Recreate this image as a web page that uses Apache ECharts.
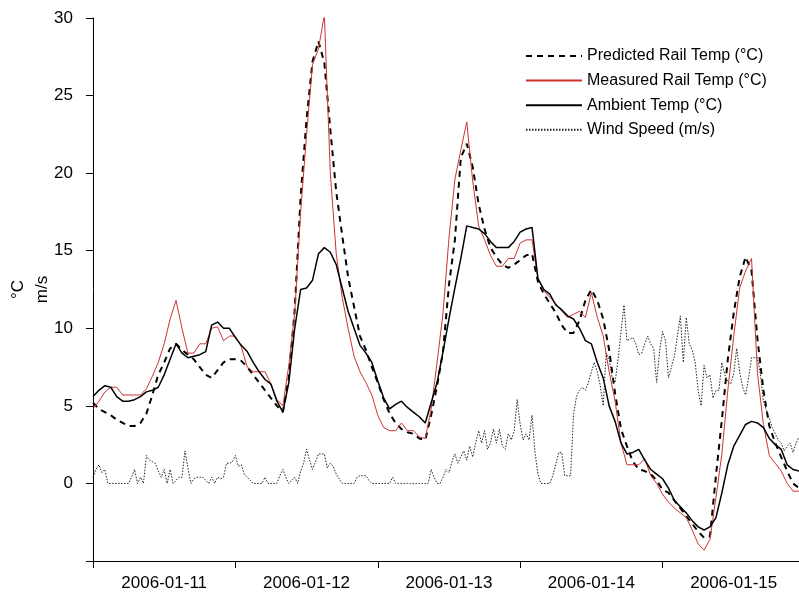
<!DOCTYPE html>
<html>
<head>
<meta charset="utf-8">
<script src="https://cdn.jsdelivr.net/npm/echarts@6/dist/echarts.min.js"></script>
<style>
  html, body { margin: 0; padding: 0; background: #fff; }
  #chart { width: 799px; height: 596px; }
</style>
</head>
<body>
<div id="chart"></div>
<script>
// Hourly readings starting 2006-01-11 00:00 (hour 0)
const dayLabels = ['2006-01-11', '2006-01-12', '2006-01-13', '2006-01-14', '2006-01-15'];

const predictedRail = [
  5.2, 4.8, 4.6, 4.4, 4.1, 3.9, 3.7, 3.7, 3.9, 4.5, 5.7, 7.0, 7.8, 8.7, 9.0, 8.6, 8.3, 8.0, 7.5, 7.0, 6.8, 7.3, 7.8, 8.0,
  8.0, 7.9, 7.5, 7.0, 6.5, 6.0, 5.5, 5.0, 4.6, 6.8, 11.2, 18.5, 23.5, 27.2, 28.5, 27.1, 22.8, 18.8, 16.0, 13.3, 11.4, 9.5, 8.6, 7.5,
  6.5, 5.4, 4.5, 3.9, 3.5, 3.3, 3.2, 2.9, 2.8, 4.4, 6.3, 8.5, 12.8, 15.7, 21.0, 21.9, 20.4, 18.0, 16.4, 15.2, 14.6, 14.1, 13.9, 14.1,
  14.4, 14.7, 14.8, 13.0, 12.2, 11.6, 11.0, 10.2, 9.7, 9.7, 10.5, 11.8, 12.5, 11.8, 10.6, 8.6, 5.8, 3.5, 2.4, 1.4, 0.9, 0.8, 0.6, 0.2,
  -0.4, -0.6, -1.1, -1.6, -2.1, -2.6, -3.1, -3.5, -3.4, 0.5, 4.1, 8.0, 11.0, 13.3, 14.6, 13.7, 9.3, 6.0, 3.7, 2.6, 1.7, 0.8, 0.0, -0.3
];

const measuredRail = [
  4.8, 5.3, 5.9, 6.2, 6.2, 5.7, 5.7, 5.7, 5.7, 6.1, 6.9, 7.8, 9.0, 10.6, 11.8, 10.0, 8.4, 8.4, 9.0, 9.0, 10.0, 10.1, 9.2, 9.5,
  9.5, 8.8, 7.5, 7.2, 7.2, 7.2, 6.4, 5.4, 5.0, 7.6, 11.0, 17.5, 22.5, 27.0, 28.0, 30.2, 20.0, 14.8, 12.0, 10.0, 8.2, 7.2, 6.5, 5.7,
  4.4, 3.6, 3.4, 3.4, 3.9, 3.4, 3.4, 3.0, 2.9, 4.8, 7.8, 11.0, 15.8, 19.6, 21.5, 23.3, 19.5, 16.6, 15.7, 14.7, 14.0, 14.0, 14.5, 14.5,
  15.5, 15.7, 15.7, 13.2, 12.4, 12.0, 11.6, 11.1, 10.7, 10.9, 11.1, 10.7, 12.3, 10.7, 9.5, 7.2, 5.3, 2.6, 1.2, 1.2, 1.2, 1.6, 0.5, 0.0,
  -0.7, -1.2, -1.6, -1.9, -2.2, -3.0, -3.9, -4.3, -3.6, -0.9, 1.9, 6.0, 9.5, 12.6, 13.7, 14.5, 7.1, 3.8, 1.8, 1.3, 0.8, 0.0, -0.5, -0.5
];

const ambientTemp = [
  5.6, 6.0, 6.3, 6.2, 5.6, 5.3, 5.3, 5.4, 5.6, 5.9, 6.0, 6.2, 7.0, 8.0, 9.0, 8.4, 8.1, 8.2, 8.3, 8.5, 10.2, 10.4, 10.0, 10.0,
  9.4, 8.9, 8.5, 7.8, 7.2, 6.7, 6.4, 5.3, 4.6, 6.5, 10.0, 12.5, 12.6, 13.1, 14.8, 15.2, 14.9, 14.1, 12.6, 11.1, 10.0, 8.9, 8.4, 7.8,
  6.6, 5.5, 4.8, 5.1, 5.3, 4.9, 4.6, 4.3, 3.9, 5.2, 6.5, 8.5, 10.6, 12.6, 14.5, 16.6, 16.5, 16.4, 16.1, 15.6, 15.2, 15.2, 15.2, 15.6,
  16.2, 16.4, 16.5, 13.2, 12.5, 12.2, 11.5, 11.2, 10.8, 10.6, 10.0, 9.2, 9.0, 7.8, 6.8, 5.0, 4.0, 2.6, 1.9, 2.0, 2.2, 1.5, 0.9, 0.6,
  0.3, -0.3, -1.1, -1.5, -1.9, -2.4, -2.8, -3.0, -2.8, -2.2, -0.6, 1.2, 2.4, 3.1, 3.8, 4.0, 3.9, 3.6, 2.9, 2.5, 2.2, 1.2, 0.9, 0.8
];

// Wind speed is logged every half hour
const windSpeed = [
  0.4, 0.9, 1.2, 0.7, 0.9, 0.0, 0.0, 0.0, 0.0, 0.0, 0.0, 0.0, 0.0, 0.4, 0.9, 0.0, 0.4, 0.0, 1.8, 1.5,
  1.4, 1.3, 0.8, 0.4, 0.9, 0.0, 0.9, 0.0, 0.2, 0.4, 0.4, 2.1, 1.0, 0.0, 0.3, 0.4, 0.4, 0.4, 0.2, 0.0,
  0.4, 0.0, 0.4, 0.3, 0.4, 1.3, 1.3, 1.4, 1.8, 1.1, 1.2, 0.6, 0.4, 0.2, 0.0, 0.0, 0.0, 0.0, 0.4, 0.0,
  0.0, 0.0, 0.0, 0.5, 0.9, 0.4, 0.0, 0.2, 0.4, 0.0, 0.8, 1.3, 2.2, 1.5, 0.9, 1.4, 1.9, 1.9, 1.9, 1.0,
  1.3, 1.1, 0.6, 0.3, 0.0, 0.0, 0.0, 0.0, 0.0, 0.4, 0.5, 0.5, 0.5, 0.2, 0.0, 0.0, 0.0, 0.0, 0.0, 0.0,
  0.0, 0.4, 0.0, 0.0, 0.0, 0.0, 0.0, 0.0, 0.0, 0.0, 0.0, 0.0, 0.0, 0.0, 0.9, 0.4, 0.0, 0.0, 0.4, 0.9,
  0.7, 1.4, 1.9, 1.3, 1.7, 2.1, 1.5, 2.4, 1.7, 2.6, 3.4, 2.6, 3.4, 2.2, 2.6, 3.5, 2.6, 3.5, 2.4, 2.2,
  3.2, 2.8, 3.4, 5.4, 3.8, 2.8, 3.2, 2.8, 4.4, 2.0, 0.6, 0.0, 0.0, 0.0, 0.0, 0.5, 1.2, 2.0, 2.0, 0.5,
  0.5, 0.5, 4.5, 5.6, 6.0, 6.2, 6.0, 6.5, 7.2, 7.8, 7.2, 6.3, 5.0, 8.4, 8.0, 6.8, 6.5, 8.0, 9.8, 11.5,
  9.2, 9.3, 9.4, 9.0, 8.3, 8.4, 9.0, 9.5, 9.0, 8.7, 6.5, 8.5, 9.8, 9.2, 6.8, 7.5, 8.2, 9.5, 10.8, 7.8,
  10.7, 9.0, 8.6, 7.8, 6.0, 5.0, 7.6, 6.8, 7.0, 5.5, 6.0, 6.0, 7.8, 7.0, 6.6, 6.4, 7.1, 8.7, 7.2, 6.2,
  5.7, 6.8, 8.1, 8.1, 8.1, 7.0, 5.3, 4.7, 4.2, 3.6, 3.2, 2.8, 2.6, 2.1, 2.4, 2.6, 2.0, 2.6, 3.0
];

const seriesNames = ['Predicted Rail Temp (°C)', 'Measured Rail Temp (°C)', 'Ambient Temp (°C)', 'Wind Speed (m/s)'];

const hourly = arr => arr.map((v, i) => [i, v]);
const halfHourly = arr => arr.map((v, i) => [i * 0.5, v]);

const FONT = 'Arial, "Liberation Sans", Helvetica, sans-serif';

const chart = echarts.init(document.getElementById('chart'), null, { renderer: 'canvas' });

chart.setOption({
  animation: false,
  backgroundColor: '#ffffff',
  grid: { left: 93, right: 0, top: 18, bottom: 35, containLabel: false, outerBoundsMode: 'none' },
  legend: {
    orient: 'vertical',
    left: 520,
    top: 43,
    itemWidth: 56,
    itemHeight: 14,
    itemGap: 8.6,
    itemStyle: { opacity: 0 },
    textStyle: { fontFamily: FONT, fontSize: 16, color: '#000' },
    data: seriesNames
  },
  xAxis: {
    type: 'value',
    min: 0,
    max: 119,
    axisLine: { onZero: false, lineStyle: { color: '#000', width: 1 } },
    axisTick: { show: true, length: 7, lineStyle: { color: '#000' }, customValues: [0, 24, 48, 72, 96] },
    axisLabel: {
      customValues: [12, 36, 60, 84, 108],
      formatter: v => dayLabels[Math.round((v - 12) / 24)],
      fontFamily: FONT, fontSize: 17, color: '#000', margin: 14
    },
    splitLine: { show: false }
  },
  yAxis: {
    type: 'value',
    min: -5,
    max: 30,
    interval: 5,
    name: '°C\nm/s',
    nameLocation: 'middle',
    nameRotate: 90,
    nameGap: 39,
    nameMoveOverlap: false,
    nameTextStyle: { fontFamily: FONT, fontSize: 17, color: '#000', lineHeight: 24 },
    axisLine: { show: true, lineStyle: { color: '#000', width: 1 } },
    axisTick: { show: true, length: 7, lineStyle: { color: '#000' } },
    axisLabel: {
      formatter: v => (v < 0 ? '' : String(v)),
      fontFamily: FONT, fontSize: 17, color: '#000', margin: 20
    },
    splitLine: { show: false }
  },
  series: [
    {
      name: seriesNames[0], type: 'line', data: hourly(predictedRail),
      showSymbol: false, symbol: 'none',
      lineStyle: { color: '#000', width: 2, type: [6, 5] },
      itemStyle: { color: '#000' }, z: 2
    },
    {
      name: seriesNames[1], type: 'line', data: hourly(measuredRail),
      showSymbol: false, symbol: 'none',
      lineStyle: { color: '#cc3333', width: 1 },
      itemStyle: { color: '#cc3333' }, z: 3
    },
    {
      name: seriesNames[2], type: 'line', data: hourly(ambientTemp),
      showSymbol: false, symbol: 'none',
      lineStyle: { color: '#000', width: 1.5 },
      itemStyle: { color: '#000' }, z: 4
    },
    {
      name: seriesNames[3], type: 'line', data: halfHourly(windSpeed),
      showSymbol: false, symbol: 'none',
      lineStyle: { color: '#222', width: 1, type: [1.5, 1.5] },
      itemStyle: { color: '#222' }, z: 5
    }
  ]
});
</script>
</body>
</html>
